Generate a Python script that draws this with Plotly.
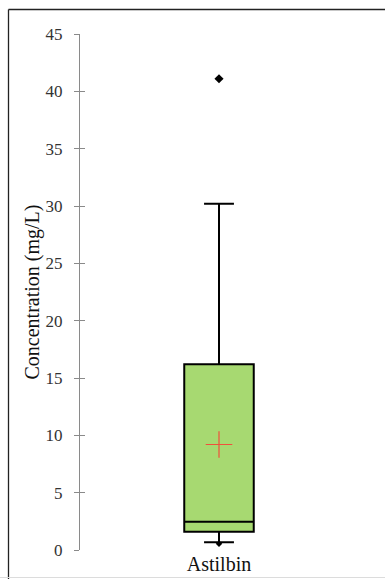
import plotly.graph_objects as go

# Summary statistics of astilbin concentration (mg/L)
categories = ["Astilbin"]
q1_vals = [1.6]
median_vals = [2.47]
q3_vals = [16.2]
lower_whisker = [0.67]
upper_whisker = [30.2]
mean_vals = [9.2]
minimum_vals = [0.55]
outlier_vals = [41.1]

y_ticks = [0, 5, 10, 15, 20, 25, 30, 35, 40, 45]

W, H = 385, 579
L, R, T, B = 80, 27, 34, 29
plot_w = W - L - R
plot_h = H - T - B


def px_to_paper_x(px):
    return (px - L) / plot_w


def px_to_paper_y(py):
    return (H - B - py) / plot_h


serif = "Liberation Serif, Times New Roman, serif"

fig = go.Figure()

fig.add_trace(go.Box(
    x=categories,
    q1=q1_vals,
    median=median_vals,
    q3=q3_vals,
    lowerfence=lower_whisker,
    upperfence=upper_whisker,
    width=0.25,
    whiskerwidth=0.43,
    fillcolor="#a7d971",
    line=dict(color="black", width=2),
    boxpoints=False,
    showlegend=False,
    hoverinfo="skip",
))

# Mean marker
fig.add_trace(go.Scatter(
    x=categories, y=mean_vals, mode="markers",
    marker=dict(symbol="cross-thin", size=19,
                line=dict(color="#f0503c", width=1.2)),
    showlegend=False, hoverinfo="skip",
))

# Minimum and outlying maximum
fig.add_trace(go.Scatter(
    x=categories, y=minimum_vals, mode="markers",
    marker=dict(symbol="diamond", size=5, color="black"),
    showlegend=False, hoverinfo="skip",
))
fig.add_trace(go.Scatter(
    x=categories, y=outlier_vals, mode="markers",
    marker=dict(symbol="diamond", size=7, color="black"),
    showlegend=False, hoverinfo="skip",
))

# Invisible trace on the overlay axis so its inner ticks render
fig.add_trace(go.Scatter(
    x=categories, y=[None], yaxis="y2", mode="markers",
    showlegend=False, hoverinfo="skip",
))

fig.update_layout(
    width=W, height=H,
    margin=dict(l=L, r=R, t=T, b=B),
    paper_bgcolor="white",
    plot_bgcolor="white",
    font=dict(family=serif, color="#222"),
    xaxis=dict(
        type="category", range=[-0.5, 0.5], automargin=False,
        showline=False, showgrid=False, zeroline=False, ticks="",
        tickfont=dict(family=serif, size=20, color="#111"),
    ),
    yaxis=dict(
        range=[0, 45], tickvals=y_ticks, automargin=False,
        showline=True, linecolor="#8a8a8a", linewidth=1,
        ticks="outside", ticklen=5, tickcolor="#8a8a8a", tickwidth=1,
        ticklabelstandoff=8,
        showgrid=False, zeroline=False,
        tickfont=dict(family=serif, size=17, color="#333"),
        title=dict(text="Concentration (mg/L)", standoff=0,
                   font=dict(family=serif, size=20, color="#111")),
    ),
    yaxis2=dict(
        overlaying="y", side="left", range=[0, 45], tickvals=y_ticks,
        ticks="inside", ticklen=5, tickcolor="#8a8a8a", tickwidth=1,
        showticklabels=False, showline=False, showgrid=False, zeroline=False,
    ),
    shapes=[
        # outer frame: dark top and left edges
        dict(type="line", xref="paper", yref="paper",
             x0=px_to_paper_x(8.5), x1=px_to_paper_x(W + 5),
             y0=px_to_paper_y(9.5), y1=px_to_paper_y(9.5),
             line=dict(color="#222", width=1.3)),
        dict(type="line", xref="paper", yref="paper",
             x0=px_to_paper_x(8.5), x1=px_to_paper_x(8.5),
             y0=px_to_paper_y(9.5), y1=px_to_paper_y(H + 5),
             line=dict(color="#222", width=1.3)),
        # faint lower edge
        dict(type="line", xref="paper", yref="paper",
             x0=px_to_paper_x(0), x1=px_to_paper_x(W + 5),
             y0=px_to_paper_y(577.5), y1=px_to_paper_y(577.5),
             line=dict(color="#dcdcdc", width=1)),
    ],
)

fig.write_html("out.html")
